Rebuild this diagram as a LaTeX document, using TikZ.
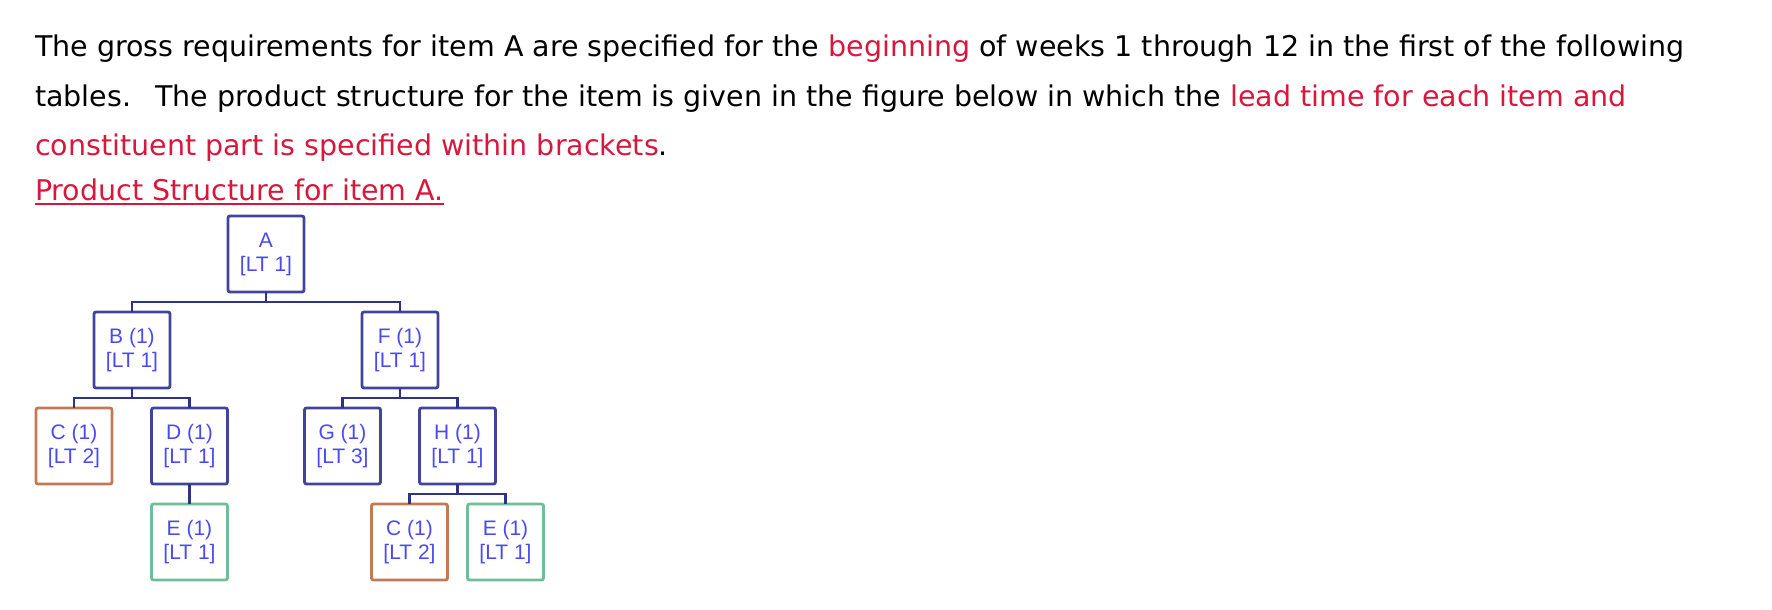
\documentclass[tikz,border=0pt]{standalone}
\usepackage{fontspec}
\setmainfont{Liberation Sans}
\newfontfamily\bodyfont{DejaVu Sans}
\usetikzlibrary{positioning}

\definecolor{partblue}{HTML}{40449B}
\definecolor{linkblue}{HTML}{2E3289}
\definecolor{labelblue}{HTML}{4A4AF0}
\definecolor{buyorange}{HTML}{C27A55}
\definecolor{buygreen}{HTML}{6EBF97}
\definecolor{notered}{HTML}{D8173D}

\begin{document}
\begin{tikzpicture}[node distance=20pt, auto]
    \tikzstyle{part}=[rectangle, draw=partblue, line width=2.8pt, rounded corners=2pt,
        minimum width=76pt, minimum height=76pt, inner sep=0pt, outer sep=0pt,
        align=center, text=labelblue, font=\fontsize{21}{24}\selectfont]
    \tikzstyle{bought}=[part, draw=buyorange]
    \tikzstyle{raw}=[part, draw=buygreen]
    \tikzstyle{textline}=[inner sep=0pt, anchor=base west, font=\bodyfont\fontsize{28.5}{36}\selectfont]
    \tikzstyle{link}=[draw=linkblue, line width=2.8pt]

    \useasboundingbox (0,0) rectangle (1772pt,-610pt);

    \node[textline] (intro) at (35pt,-56.7pt)
        {The gross requirements for item A are specified for the \textcolor{notered}{beginning} of weeks 1 through 12 in the first of the following};
    \node[textline] (struct) at (35pt,-106pt)
        {tables.\hspace{24pt}The product structure for the item is given in the figure below in which the \textcolor{notered}{lead time for each item and}};
    \node[textline] (brackets) at (35pt,-155pt)
        {\textcolor{notered}{constituent part is specified within brackets}.};
    \node[textline, text=notered] (title) at (35pt,-200pt) {Product Structure for item A.};
    \draw[notered, line width=2pt] ([yshift=-4pt]title.base west) -- ([yshift=-4pt]title.base east);

    \node[part] (a) at (266pt,-254pt) {A\\{[LT 1]}};
    \node[part] (b) [below=of a, xshift=-134pt] {B (1)\\{[LT 1]}};
    \node[part] (f) [below=of a, xshift=134pt] {F (1)\\{[LT 1]}};
    \node[bought] (c1) [below=of b, xshift=-58pt] {C (1)\\{[LT 2]}};
    \node[part] (d) [below=of b, xshift=57.5pt] {D (1)\\{[LT 1]}};
    \node[part] (g) [below=of f, xshift=-57.5pt] {G (1)\\{[LT 3]}};
    \node[part] (h) [below=of f, xshift=57.5pt] {H (1)\\{[LT 1]}};
    \node[raw] (e1) [below=of d] {E (1)\\{[LT 1]}};
    \node[bought] (c2) [below=of h, xshift=-48pt] {C (1)\\{[LT 2]}};
    \node[raw] (e2) [below=of h, xshift=48pt] {E (1)\\{[LT 1]}};

    \path[link]
    (a.south) -- ++(0,-10pt) -| (b.north)
    (a.south) -- ++(0,-10pt) -| (f.north)
    (b.south) -- ++(0,-10pt) -| (c1.north)
    (b.south) -- ++(0,-10pt) -| (d.north)
    (f.south) -- ++(0,-10pt) -| (g.north)
    (f.south) -- ++(0,-10pt) -| (h.north)
    (d) -- (e1)
    (h.south) -- ++(0,-10pt) -| (c2.north)
    (h.south) -- ++(0,-10pt) -| (e2.north);

\end{tikzpicture}
\end{document}
